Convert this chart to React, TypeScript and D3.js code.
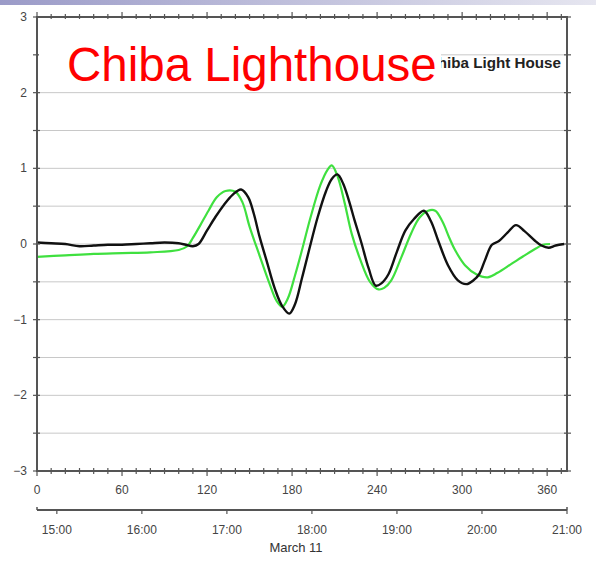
import React from "react";
import * as d3 from "d3";

// Tsunami waveform at Chiba Lighthouse: observed (black) vs. modelled (green)
const observed: [number, number][] = [
  [0, 0.02], [10, 0.01], [20, 0.0], [30, -0.03], [40, -0.02], [50, -0.01], [60, -0.01],
  [70, 0.0], [80, 0.01], [90, 0.02], [100, 0.01], [105, -0.01], [110, -0.03], [114, 0.0],
  [120, 0.18], [126, 0.36], [132, 0.52], [138, 0.65], [144, 0.72], [149, 0.62], [153, 0.4],
  [157, 0.1], [162, -0.22], [168, -0.6], [173, -0.82], [178, -0.92], [182, -0.8], [187, -0.45],
  [192, -0.08], [198, 0.35], [204, 0.7], [208, 0.86], [212, 0.92], [216, 0.8], [220, 0.58],
  [224, 0.32], [229, 0.01], [234, -0.32], [239, -0.55], [243, -0.52], [248, -0.4], [254, -0.1],
  [260, 0.18], [266, 0.33], [273, 0.44], [278, 0.3], [283, 0.05], [290, -0.28], [297, -0.48],
  [303, -0.53], [308, -0.48], [312, -0.4], [316, -0.22], [321, -0.01], [326, 0.04], [332, 0.15],
  [338, 0.25], [344, 0.17], [351, 0.05], [356, -0.02], [361, -0.05], [366, -0.02], [372, 0.0],
];

const modelled: [number, number][] = [
  [0, -0.17], [20, -0.15], [40, -0.13], [60, -0.12], [80, -0.11], [100, -0.08], [106, -0.03],
  [110, 0.08], [115, 0.24], [121, 0.44], [127, 0.62], [133, 0.7], [140, 0.69], [145, 0.55],
  [150, 0.23], [157, -0.15], [164, -0.52], [169, -0.75], [173, -0.83], [177, -0.72], [182, -0.42],
  [187, -0.08], [193, 0.35], [200, 0.78], [205, 0.98], [208, 1.04], [212, 0.9], [217, 0.55],
  [222, 0.14], [228, -0.2], [235, -0.5], [241, -0.6], [245, -0.58], [250, -0.48], [257, -0.18],
  [264, 0.14], [270, 0.35], [276, 0.44], [281, 0.44], [286, 0.3], [291, 0.08], [295, -0.08],
  [302, -0.28], [310, -0.4], [318, -0.44], [325, -0.38], [335, -0.26], [345, -0.14], [352, -0.06],
  [357, -0.01], [362, 0.0],
];

const minuteTicks = [0, 60, 120, 180, 240, 300, 360];
const levelTicks = [3, 2, 1, 0, -1, -2, -3];
const hourLabels = ["15:00", "16:00", "17:00", "18:00", "19:00", "20:00", "21:00"];
const hourOffsets = [14, 74, 134, 194, 254, 314, 374]; // minutes after 14:46

const W = 596;
const H = 563;
const FONT = "'Liberation Sans', Arial, Helvetica, sans-serif";

export default function App() {
  const x = d3.scaleLinear().domain([0, 374]).range([37, 567]);
  const y = d3.scaleLinear().domain([-3, 3]).range([471, 17]);

  const line = d3
    .line<[number, number]>()
    .x((d) => x(d[0]))
    .y((d) => y(d[1]))
    .curve(d3.curveCatmullRom);

  const grid = d3.range(-2.5, 3, 0.5);
  const minor = d3.range(0, 375, 10);
  const halfLevels = d3.range(-3, 3.01, 0.5);
  const axisY = 510;
  const labelColor = "#444";
  const axisColor = "#555";

  return (
    <svg
      width={W}
      height={H}
      style={{ position: "absolute", left: 0, top: 0, background: "#fff" }}
    >
      <defs>
        <linearGradient id="band" x1="0" x2="1" y1="0" y2="0">
          <stop offset="0" stopColor="#9b9bc8" />
          <stop offset="1" stopColor="#e6e6f0" />
        </linearGradient>
      </defs>
      <rect x={0} y={0} width={W} height={5} fill="url(#band)" />

      {/* horizontal grid */}
      {grid.map((g) => (
        <line key={g} x1={x(0)} x2={x(374)} y1={y(g)} y2={y(g)} stroke="#c8c8c8" strokeWidth={1} />
      ))}

      {/* station title inside the frame */}
      <text
        x={561}
        y={68}
        textAnchor="end"
        fontFamily={FONT}
        fontWeight="bold"
        fontSize={15.2}
        fill="#222"
      >
        Chiba Light House
      </text>

      {/* waveforms */}
      <path d={line(modelled) ?? ""} fill="none" stroke="#3fe03f" strokeWidth={2.2} strokeLinejoin="round" />
      <path d={line(observed) ?? ""} fill="none" stroke="#111" strokeWidth={2.4} strokeLinejoin="round" />

      {/* frame */}
      <rect x={x(0)} y={y(3)} width={x(374) - x(0)} height={y(-3) - y(3)} fill="none" stroke={axisColor} strokeWidth={2} />

      {/* left/right ticks */}
      {halfLevels.map((v) => (
        <g key={v}>
          <line x1={x(0) - 4} x2={x(0) + 3} y1={y(v)} y2={y(v)} stroke={axisColor} strokeWidth={1.2} />
          <line x1={x(374) - 3} x2={x(374) + 4} y1={y(v)} y2={y(v)} stroke={axisColor} strokeWidth={1.2} />
        </g>
      ))}
      {levelTicks.map((v) => (
        <text
          key={v}
          x={27}
          y={y(v) + 4}
          textAnchor="end"
          fontFamily={FONT}
          fontSize={12}
          fill={labelColor}
        >
          {v < 0 ? `\u2212${Math.abs(v)}` : v}
        </text>
      ))}

      {/* top/bottom minute ticks */}
      {minor.map((m) => (
        <g key={m}>
          <line x1={x(m)} x2={x(m)} y1={y(-3) - 3} y2={y(-3) + (m % 60 === 0 ? 5 : 3)} stroke={axisColor} strokeWidth={1.2} />
          <line x1={x(m)} x2={x(m)} y1={y(3) - (m % 60 === 0 ? 5 : 3)} y2={y(3) + 3} stroke={axisColor} strokeWidth={1.2} />
        </g>
      ))}
      {minuteTicks.map((m) => (
        <text
          key={m}
          x={x(m)}
          y={494}
          textAnchor="middle"
          fontFamily={FONT}
          fontSize={12}
          fill={labelColor}
        >
          {m}
        </text>
      ))}

      {/* clock-time axis */}
      <line x1={x(0)} x2={x(374)} y1={axisY} y2={axisY} stroke={axisColor} strokeWidth={2} />
      <line x1={x(0)} x2={x(0)} y1={axisY - 3} y2={axisY} stroke={axisColor} strokeWidth={1.5} />
      <line x1={x(374)} x2={x(374)} y1={axisY - 3} y2={axisY} stroke={axisColor} strokeWidth={1.5} />
      {hourOffsets.map((m, i) => (
        <g key={m}>
          <line x1={x(m)} x2={x(m)} y1={axisY} y2={axisY + 4} stroke={axisColor} strokeWidth={1.2} />
          <text
            x={x(m)}
            y={534}
            textAnchor="middle"
            fontFamily={FONT}
            fontSize={12}
            fill={labelColor}
          >
            {hourLabels[i]}
          </text>
        </g>
      ))}
      <text x={296} y={552} textAnchor="middle" fontFamily={FONT} fontSize={13} fill="#333">
        March 11
      </text>

      {/* headline */}
      <rect x={39} y={19} width={402} height={72} fill="#fff" />
      <text x={67} y={81} fontFamily={FONT} fontSize={47.5} fill="#ff0000">
        Chiba Lighthouse
      </text>
    </svg>
  );
}
